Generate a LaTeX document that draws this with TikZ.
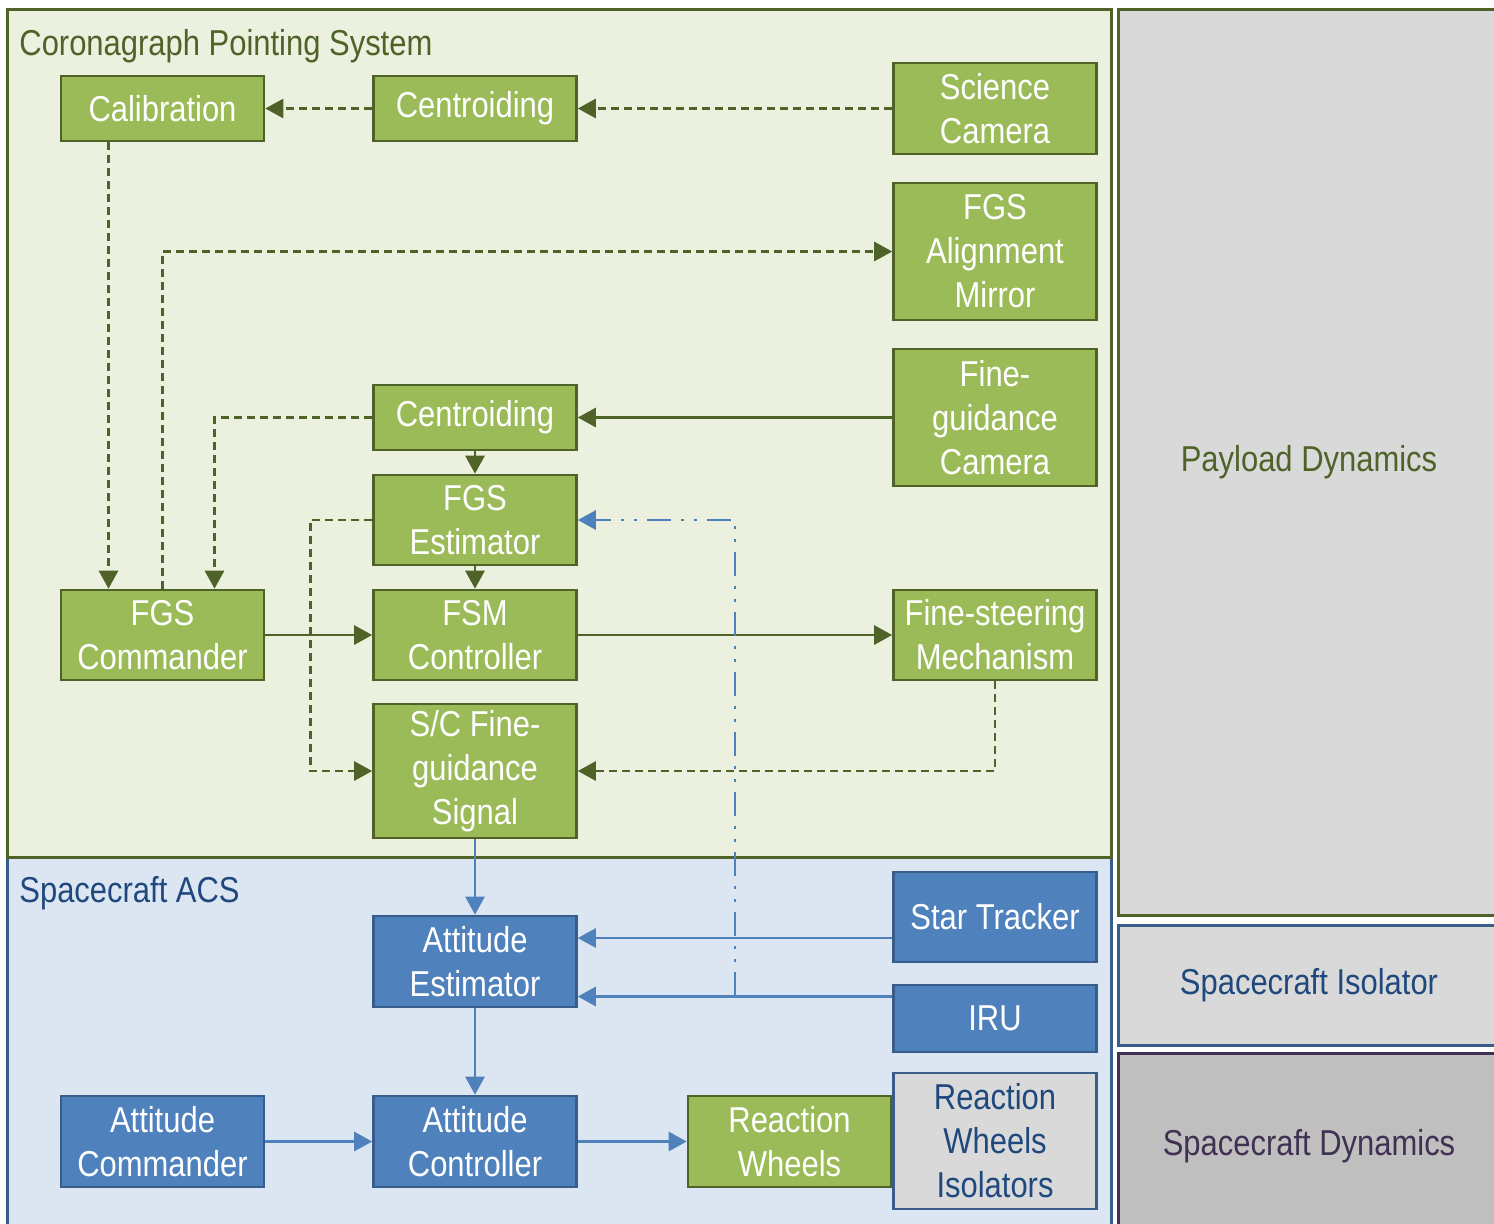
\documentclass[tikz,border=0pt]{standalone}
\usepackage{fontspec}
\setmainfont{Liberation Sans}[FakeStretch=0.86]
\usetikzlibrary{arrows.meta}
\definecolor{cpgreen}{HTML}{9BBB59}
\definecolor{cpdark}{HTML}{4F6228}
\definecolor{cpback}{HTML}{EBF1DE}
\definecolor{acblue}{HTML}{4F81BD}
\definecolor{acdark}{HTML}{385D8A}
\definecolor{acback}{HTML}{DCE6F2}
\definecolor{actext}{HTML}{1F497D}
\definecolor{dyngrey}{HTML}{D9D9D9}
\definecolor{dyndark}{HTML}{BFBFBF}
\definecolor{dynpurple}{HTML}{403152}
\tikzset{
  gbox/.style  = {rectangle, draw=cpdark, line width=1.3pt, fill=cpgreen,
                  text=white, minimum width=101.5pt, align=center,
                  font=\fontsize{18}{22}\selectfont, inner sep=0pt},
  bbox/.style  = {gbox, draw=acdark, fill=acblue},
  ibox/.style  = {gbox, draw=acdark, fill=dyngrey, text=actext},
  title/.style = {anchor=west, font=\fontsize{18}{22}\selectfont, inner sep=0pt},
  dyn/.style   = {rectangle, line width=1.5pt, font=\fontsize{18}{22}\selectfont,
                  minimum width=191pt},
  ged/.style   = {-{Triangle[length=9pt,width=9.5pt]}, draw=cpdark, line width=1.4pt},
  gedd/.style  = {ged, dash pattern=on 4pt off 2.5pt},
  bed/.style   = {-{Triangle[length=9pt,width=9.5pt]}, draw=acblue, line width=1.4pt},
  bedd/.style  = {bed, dash pattern=on 12pt off 5pt on 1.5pt off 5pt on 1.5pt off 5pt},
}
\begin{document}
\begin{tikzpicture}[x=0.5pt,y=-0.5pt]
  \useasboundingbox (0,0) rectangle (1494,1223);
  \clip (0,0) rectangle (1494,1223);
  % regions
  \draw[fill=acback, draw=acdark, line width=1.5pt] (7,857) rectangle (1111,1240);
  \draw[fill=cpback, draw=cpdark, line width=1.5pt] (7,9) rectangle (1111,857);
  \node[title, text=cpdark] (cpstitle) at (19,46) {Coronagraph Pointing System};
  \node[title, text=actext] (acstitle) at (19,893) {Spacecraft ACS};
  % dynamics column
  \node[dyn, fill=dyngrey, draw=cpdark, text=cpdark, minimum height=453pt]
    (payload) at (1309,462) {Payload Dynamics};
  \node[dyn, fill=dyngrey, draw=acdark, text=actext, minimum height=60pt]
    (isolator) at (1309,985) {Spacecraft Isolator};
  \node[dyn, fill=dyndark, draw=dynpurple, text=dynpurple, minimum height=93.5pt]
    (scdyn) at (1309,1146.5) {Spacecraft Dynamics};

  % coronagraph pointing system
  \node[gbox, minimum height=32.5pt] (calib) at (162.5,108.5) {Calibration};
  \node[gbox, minimum height=32.5pt] (cent1) at (475,108.5) {Centroiding};
  \node[gbox, minimum height=45.5pt] (scicam) at (995,108.5) {Science\\Camera};
  \node[gbox, minimum height=68.5pt] (mirror) at (995,251.5) {FGS\\Alignment\\Mirror};
  \node[gbox, minimum height=68.5pt] (fgcam) at (995,417.5) {Fine-\\guidance\\Camera};
  \node[gbox, minimum height=32.5pt] (cent2) at (475,417.5) {Centroiding};
  \node[gbox, minimum height=45pt] (fgsest) at (475,520) {FGS\\Estimator};
  \node[gbox, minimum height=45pt] (fgscmd) at (162.5,635) {FGS\\Commander};
  \node[gbox, minimum height=45pt] (fsmctl) at (475,635) {FSM\\Controller};
  \node[gbox, minimum height=45pt] (fsm) at (995,635) {Fine-steering\\Mechanism};
  \node[gbox, minimum height=67pt] (scfg) at (475,771) {S/C Fine-\\guidance\\Signal};

  % spacecraft ACS
  \node[bbox, minimum height=45pt] (startr) at (995,917) {Star Tracker};
  \node[bbox, minimum height=33.5pt] (iru) at (995,1018.5) {IRU};
  \node[bbox, minimum height=45.5pt] (attest) at (475,961.5) {Attitude\\Estimator};
  \node[bbox, minimum height=45.5pt] (attcmd) at (162.5,1141.5) {Attitude\\Commander};
  \node[bbox, minimum height=45.5pt] (attctl) at (475,1141.5) {Attitude\\Controller};
  \node[gbox, minimum height=45.5pt] (rwheel) at (789.5,1141.5) {Reaction\\Wheels};
  \node[ibox, minimum height=68pt] (rwiso) at (995,1141) {Reaction\\Wheels\\Isolators};

  % green links
  \draw[gedd] (cent1) -- (calib);
  \draw[gedd] (scicam) -- (cent1);
  \draw[gedd] ([xshift=-27pt]calib.south) -- ([xshift=-27pt]fgscmd.north);
  \draw[gedd] (fgscmd.north) |- (mirror.west);
  \draw[gedd] (cent2.west) -| ([xshift=26pt]fgscmd.north);
  \draw[ged] (fgcam) -- (cent2);
  \draw[ged] (cent2) -- (fgsest);
  \draw[ged] (fgsest) -- (fsmctl);
  \draw[gedd] (fgsest.west) -- ++(-62,0) |- (scfg.west);
  \draw[ged] (fgscmd) -- (fsmctl);
  \draw[ged] (fsmctl) -- (fsm);
  \draw[gedd] (fsm.south) |- (scfg.east);

  % blue links
  \draw[bed] (scfg) -- (attest);
  \draw[bed] ([yshift=-10.5pt]startr.west) coordinate (st1) -- (st1 -| attest.east);
  \draw[bed] ([yshift=11pt]iru.west) coordinate (iru1) -- (iru1 -| attest.east);
  \coordinate (tap) at (735,996);
  \draw[bedd] (tap) |- (fgsest.east);
  \draw[bed] (attest) -- (attctl);
  \draw[bed] (attcmd) -- (attctl);
  \draw[bed] (attctl) -- (rwheel);
\end{tikzpicture}
\end{document}
